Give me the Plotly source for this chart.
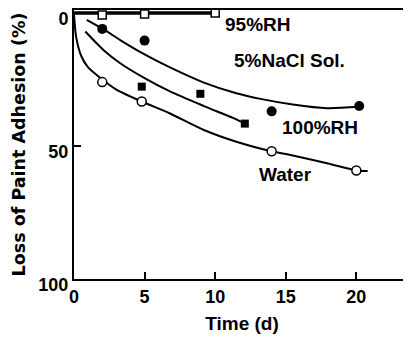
import plotly.graph_objects as go

# ---- data ----
rh95_x = [2, 5, 10]
rh95_y = [0.8, 0.4, 0.0]
rh95_line_x = [0, 2, 5, 10]
rh95_line_y = [0.0, 0.0, 0.0, 0.0]

nacl_x = [2, 5, 14, 20.2]
nacl_y = [6.0, 10.4, 37.0, 35.0]
nacl_curve_x = [0.9, 2.1, 3.3, 5, 6.8, 9.2, 11.5, 13.2, 15.5, 17.9, 20.2]
nacl_curve_y = [2.6, 6.2, 10.3, 15.6, 20.5, 26.2, 30.2, 32.3, 34.4, 35.8, 35.3]

rh100_x = [4.8, 8.95, 12.1]
rh100_y = [27.7, 30.4, 41.6]
rh100_curve_x = [0.8, 2.1, 3.3, 5, 6.8, 9.2, 11.5, 12.1]
rh100_curve_y = [7.0, 14.0, 19.0, 24.5, 29.5, 35.0, 40.0, 41.6]

water_x = [2, 4.8, 14, 20]
water_y = [26.0, 33.3, 52.0, 59.2]
water_curve_x = [0, 0.15, 0.5, 1.0, 2.0, 3.0, 4.8, 6.8, 9.2, 11.5, 14, 15.5, 18, 20, 20.8]
water_curve_y = [0.5, 9.0, 16.0, 20.5, 25.0, 28.8, 33.3, 37.8, 44.0, 48.4, 52.0, 53.6, 56.6, 59.2, 59.4]

x_ticks = [0, 5, 10, 15, 20]
y_ticks = [0, 50, 100]

labels = ["95%RH", "5%NaCl Sol.", "100%RH", "Water"]
label_x = [13.0, 15.25, 17.4, 15.0]
label_y = [4.5, 18.0, 42.9, 60.9]

BOLD = "Liberation Sans, Arial, sans-serif"
WIDE = "DejaVu Sans, Liberation Sans, sans-serif"

fig = go.Figure()

line_style = dict(color="black", width=2, shape="spline", smoothing=0.7)

fig.add_trace(go.Scatter(x=rh95_line_x, y=rh95_line_y, mode="lines",
                         line=dict(color="black", width=3.5), showlegend=False))
fig.add_trace(go.Scatter(x=nacl_curve_x, y=nacl_curve_y, mode="lines",
                         line=line_style, showlegend=False))
fig.add_trace(go.Scatter(x=rh100_curve_x, y=rh100_curve_y, mode="lines",
                         line=line_style, showlegend=False))
fig.add_trace(go.Scatter(x=water_curve_x, y=water_curve_y, mode="lines",
                         line=line_style, showlegend=False))

fig.add_trace(go.Scatter(x=rh95_x, y=rh95_y, mode="markers", showlegend=False,
                         marker=dict(symbol="square", size=8, color="white",
                                     line=dict(color="black", width=1.5))))
fig.add_trace(go.Scatter(x=nacl_x, y=nacl_y, mode="markers", showlegend=False,
                         marker=dict(symbol="circle", size=10, color="black",
                                     line=dict(color="black", width=0))))
fig.add_trace(go.Scatter(x=rh100_x, y=rh100_y, mode="markers", showlegend=False,
                         marker=dict(symbol="square", size=8, color="black",
                                     line=dict(color="black", width=0))))
fig.add_trace(go.Scatter(x=water_x, y=water_y, mode="markers", showlegend=False,
                         marker=dict(symbol="circle", size=9, color="white",
                                     line=dict(color="black", width=1.5))))

for t, lx, ly in zip(labels, label_x, label_y):
    fig.add_annotation(x=lx, y=ly, text=t, showarrow=False,
                       font=dict(family=BOLD, size=19, color="black", weight="bold"),
                       xanchor="center", yanchor="middle")

# partial right border seen in the reference
fig.add_shape(type="line", xref="paper", yref="y", x0=1, x1=1, y0=-1.1, y1=7.5,
              line=dict(color="black", width=1.5))

# page body has an 8px margin, so the figure is sized/placed to compensate
fig.update_layout(
    width=403, height=332,
    margin=dict(l=66, r=1, t=2, b=61),
    paper_bgcolor="white", plot_bgcolor="white",
    showlegend=False,
    xaxis=dict(range=[0, 23.8], tickvals=x_ticks, ticktext=[str(v) for v in x_ticks],
               ticks="inside", ticklen=7, tickwidth=1.5, tickcolor="black",
               showline=True, linecolor="black", linewidth=2, mirror=True,
               showgrid=False, zeroline=False, automargin=False,
               tickfont=dict(family=BOLD, size=18, color="black", weight="bold"),
               title=dict(text="Time (d)", standoff=11,
                          font=dict(family=BOLD, size=19, color="black", weight="bold"))),
    yaxis=dict(range=[100, -1.1], tickvals=y_ticks, ticktext=[str(v) for v in y_ticks],
               ticks="inside", ticklen=7, tickwidth=1.5, tickcolor="black",
               ticklabelshift=-6,
               showline=True, linecolor="black", linewidth=2, mirror=False,
               showgrid=False, zeroline=False, automargin=False,
               tickfont=dict(family=BOLD, size=18, color="black", weight="bold"),
               title=dict(text="Loss of Paint Adhesion (%)", standoff=8,
                          font=dict(family=WIDE, size=17.5, color="black", weight="bold"))),
)

fig.write_html("out.html")
